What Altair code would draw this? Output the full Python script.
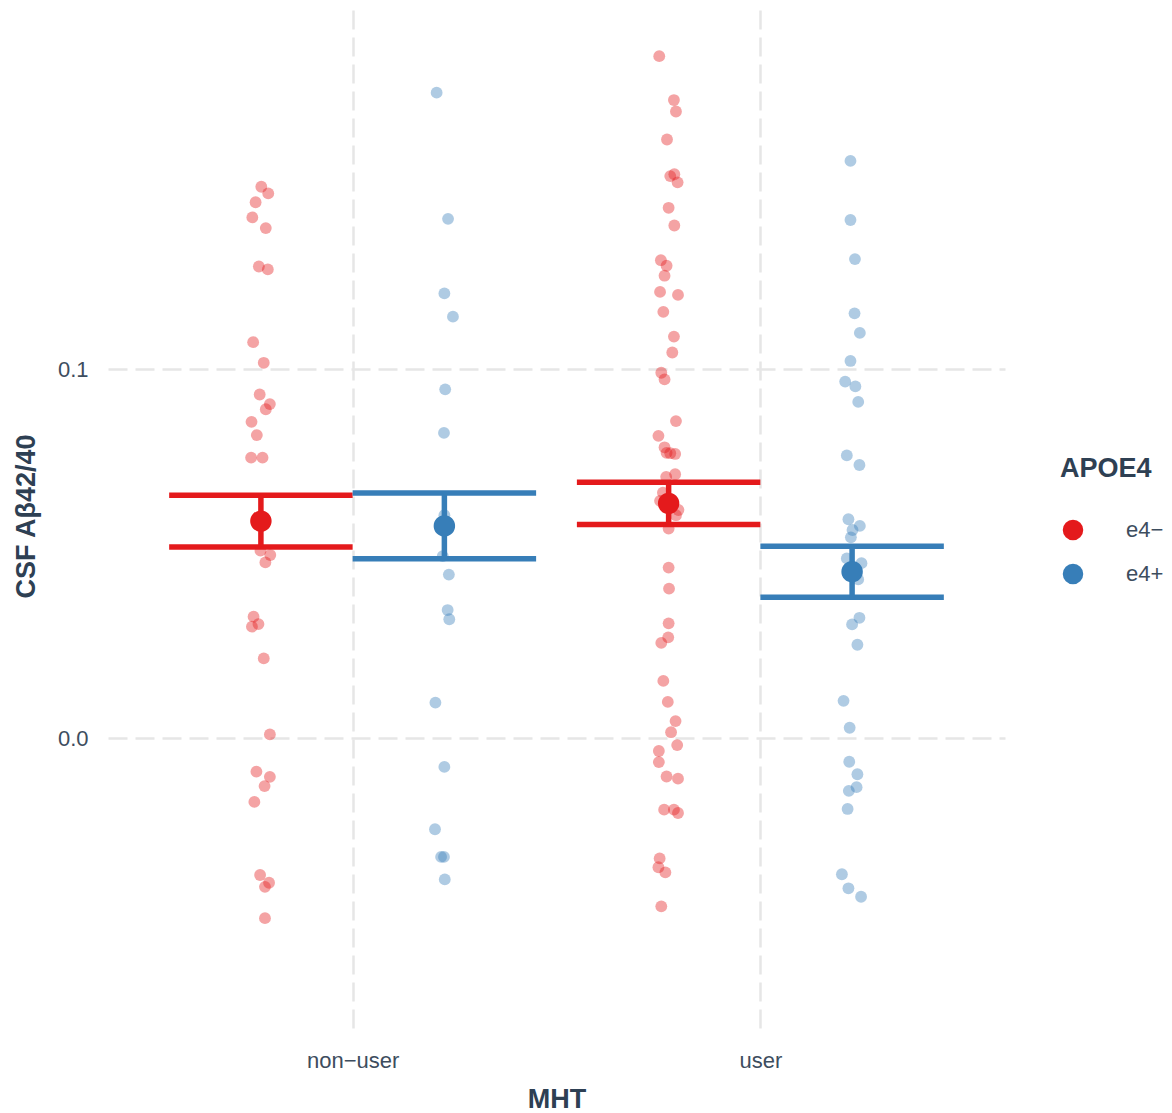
import altair as alt
import pandas as pd

# Categories
MHT = ["non−user", "user"]
APOE4 = ["e4−", "e4+"]
COLORS = ["#E41A1C", "#377EB8"]

# Individual CSF Aβ42/40 values (and horizontal jitter, in category units)
nonuser_neg = [0.1494, 0.1476, 0.1452, 0.1411, 0.1382, 0.1278, 0.1270, 0.1073,
               0.1017, 0.0931, 0.0905, 0.0891, 0.0857, 0.0821, 0.0760, 0.0760,
               0.0508, 0.0496, 0.0476, 0.0329, 0.0302, 0.0309, 0.0216, 0.0010,
               -0.0091, -0.0105, -0.0130, -0.0173, -0.0371, -0.0392, -0.0403, -0.0488]
nonuser_neg_jit = [0.001, 0.018, -0.013, -0.021, 0.012, -0.005, 0.017, -0.019,
                   0.007, -0.003, 0.022, 0.012, -0.023, -0.010, -0.024, 0.004,
                   -0.001, 0.023, 0.011, -0.018, -0.022, -0.006, 0.007, 0.022,
                   -0.011, 0.022, 0.009, -0.016, -0.002, 0.020, 0.010, 0.010]

nonuser_pos = [0.1749, 0.1407, 0.1205, 0.1142, 0.0945, 0.0827, 0.0604, 0.0493,
               0.0443, 0.0347, 0.0322, 0.0096, -0.0078, -0.0247, -0.0322, -0.0322,
               -0.0383]
nonuser_pos_jit = [-0.019, 0.009, 0.000, 0.021, 0.002, -0.001, 0.000, -0.004,
                   0.011, 0.008, 0.012, -0.022, 0.000, -0.023, -0.008, -0.001,
                   0.001]

user_neg = [0.1848, 0.1729, 0.1698, 0.1622, 0.1523, 0.1528, 0.1506, 0.1437,
            0.1389, 0.1295, 0.1280, 0.1253, 0.1209, 0.1201, 0.1155, 0.1088,
            0.1045, 0.0990, 0.0972, 0.0859, 0.0819, 0.0788, 0.0773, 0.0772,
            0.0770, 0.0708, 0.0715, 0.0665, 0.0643, 0.0618, 0.0604, 0.0568,
            0.0462, 0.0405, 0.0311, 0.0273, 0.0258, 0.0155, 0.0098, 0.0046,
            0.0016, -0.0019, -0.0035, -0.0065, -0.0104, -0.0110, -0.0194, -0.0194,
            -0.0203, -0.0326, -0.0350, -0.0364, -0.0456]
user_neg_jit = [-0.023, 0.013, 0.018, -0.004, 0.004, 0.014, 0.022, 0.000,
                0.014, -0.019, -0.005, -0.010, -0.021, 0.023, -0.013, 0.013,
                0.009, -0.018, -0.010, 0.018, -0.025, -0.010, -0.005, 0.004,
                0.016, -0.006, 0.016, -0.014, -0.021, 0.024, 0.018, 0.000,
                0.000, 0.001, 0.000, -0.001, -0.018, -0.013, -0.002, 0.017,
                0.006, 0.021, -0.024, -0.024, -0.005, 0.023, -0.011, 0.013,
                0.023, -0.022, -0.025, -0.008, -0.018]

user_pos = [0.1564, 0.1404, 0.1298, 0.1151, 0.1098, 0.1022, 0.0966, 0.0953,
            0.0911, 0.0766, 0.0740, 0.0593, 0.0575, 0.0564, 0.0544, 0.0487,
            0.0474, 0.0430, 0.0326, 0.0308, 0.0253, 0.0101, 0.0028, -0.0064,
            -0.0098, -0.0133, -0.0143, -0.0192, -0.0369, -0.0407, -0.0430]
user_pos_jit = [-0.004, -0.004, 0.007, 0.006, 0.019, -0.004, -0.017, 0.008,
                0.015, -0.013, 0.018, -0.009, 0.019, 0.001, -0.003, -0.013,
                0.023, 0.015, 0.018, 0.000, 0.013, -0.021, -0.006, -0.007,
                0.013, 0.011, -0.008, -0.011, -0.025, -0.009, 0.022]

# Group means and standard errors: [MHT][APOE4]
means = [[0.0588, 0.0575], [0.0636, 0.0451]]
ses = [[0.0070, 0.0089], [0.0057, 0.0069]]

DODGE = 0.225

groups = [
    (0, 0, nonuser_neg, nonuser_neg_jit),
    (0, 1, nonuser_pos, nonuser_pos_jit),
    (1, 0, user_neg, user_neg_jit),
    (1, 1, user_pos, user_pos_jit),
]

rows = []
for mi, ai, vals, jit in groups:
    centre = mi + 1 + (2 * ai - 1) * DODGE
    for v, j in zip(vals, jit):
        rows.append({"MHT": MHT[mi], "APOE4": APOE4[ai], "pos": centre + j, "value": v})
points = pd.DataFrame(rows)

summ_rows = []
for mi in range(2):
    for ai in range(2):
        centre = mi + 1 + (2 * ai - 1) * DODGE
        m, s = means[mi][ai], ses[mi][ai]
        summ_rows.append({
            "MHT": MHT[mi], "APOE4": APOE4[ai], "centre": centre,
            "left": centre - DODGE, "right": centre + DODGE,
            "mean": m, "lower": m - s, "upper": m + s,
        })
summary = pd.DataFrame(summ_rows)

TITLE_COLOR = "#2E4053"
LABEL_COLOR = "#3D4D5E"
FONT = "Liberation Sans"

x_scale = alt.Scale(domain=[0.4, 2.6], nice=False, zero=False)
y_scale = alt.Scale(domain=[-0.0791, 0.1973], nice=False, zero=False)

legend = alt.Legend(
    title="APOE4", orient="none", legendX=952, legendY=446,
    symbolType="circle", symbolSize=420, symbolOpacity=1,
    symbolStrokeWidth=0, symbolOffset=2, labelOffset=42, rowPadding=22,
    titlePadding=36, padding=0,
)
color = alt.Color("APOE4:N", scale=alt.Scale(domain=APOE4, range=COLORS), legend=legend)

label_expr = "[" + ",".join("'" + m + "'" for m in MHT) + "][datum.value - 1]"

x_axis = alt.Axis(
    title="MHT", values=[1, 2], labelExpr=label_expr,
    labelBaseline="alphabetic", labelPadding=37, tickSize=0,
    titleBaseline="alphabetic", titleY=77, titleX=448.5,
)
y_axis = alt.Axis(
    title="CSF Aβ42/40", values=[0.0, 0.1], format=".1f",
    labelPadding=20, tickSize=0,
    titleBaseline="alphabetic", titleX=-74, titleY=506, titleAngle=-90,
)

jitter = alt.Chart(points).mark_circle(size=140, opacity=0.4).encode(
    x=alt.X("pos:Q", scale=x_scale, axis=x_axis),
    y=alt.Y("value:Q", scale=y_scale, axis=y_axis),
    color=color,
)

base = alt.Chart(summary)

upper_bar = base.mark_rule(strokeWidth=5.5, strokeCap="butt").encode(
    x=alt.X("left:Q", scale=x_scale),
    x2="right:Q",
    y=alt.Y("upper:Q", scale=y_scale),
    color=color,
)
lower_bar = base.mark_rule(strokeWidth=5.5, strokeCap="butt").encode(
    x=alt.X("left:Q", scale=x_scale),
    x2="right:Q",
    y=alt.Y("lower:Q", scale=y_scale),
    color=color,
)
stem = base.mark_rule(strokeWidth=5.5, strokeCap="butt").encode(
    x=alt.X("centre:Q", scale=x_scale),
    y=alt.Y("lower:Q", scale=y_scale),
    y2="upper:Q",
    color=color,
)
mean_pt = base.mark_circle(size=460, opacity=1).encode(
    x=alt.X("centre:Q", scale=x_scale),
    y=alt.Y("mean:Q", scale=y_scale),
    color=color,
)

chart = (
    alt.layer(jitter, upper_bar, lower_bar, stem, mean_pt)
    .properties(
        width=897, height=1020,
        autosize="none",
        padding={"left": 108, "top": 10, "right": 167, "bottom": 83},
    )
    .configure(font=FONT, background="white")
    .configure_view(stroke=None)
    .configure_axis(
        domain=False, ticks=False,
        grid=True, gridColor="#E6E6E6", gridWidth=2.5, gridDash=[19, 8],
        labelFont=FONT, labelFontSize=22, labelColor=LABEL_COLOR,
        titleFont=FONT, titleFontSize=27, titleFontWeight="bold", titleColor=TITLE_COLOR,
    )
    .configure_legend(
        labelFont=FONT, labelFontSize=22, labelColor=LABEL_COLOR,
        titleFont=FONT, titleFontSize=27, titleFontWeight="bold", titleColor=TITLE_COLOR,
    )
)

chart.save("out.html", embed_options={"renderer": "svg", "actions": False})
